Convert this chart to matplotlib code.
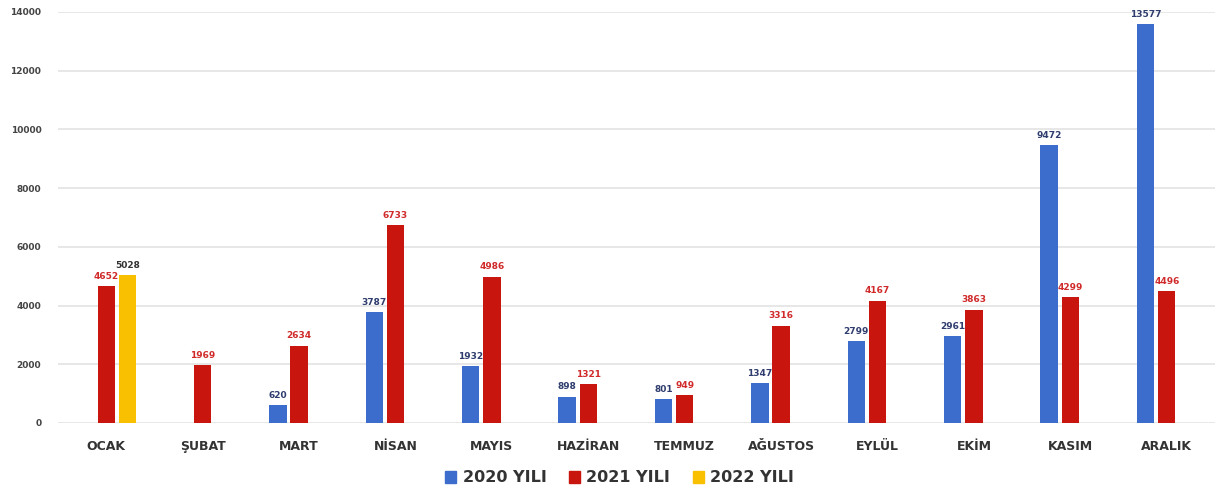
import matplotlib.pyplot as plt
from matplotlib.patches import Patch
import numpy as np

months = ["OCAK", "ŞUBAT", "MART", "NİSAN", "MAYIS", "HAZİRAN",
          "TEMMUZ", "AĞUSTOS", "EYLÜL", "EKİM", "KASIM", "ARALIK"]
y2020 = [None, None, 620, 3787, 1932, 898, 801, 1347, 2799, 2961, 9472, 13577]
y2021 = [4652, 1969, 2634, 6733, 4986, 1321, 949, 3316, 4167, 3863, 4299, 4496]
y2022 = [5028, None, None, None, None, None, None, None, None, None, None, None]
series_names = ["2020 YILI", "2021 YILI", "2022 YILI"]
yticks = [0, 2000, 4000, 6000, 8000, 10000, 12000, 14000]

colors = ["#3c6ccc", "#c8160e", "#f8c000"]
label_colors = ["#2f3d6e", "#d02a2a", "#333333"]

fig = plt.figure(figsize=(12.15, 4.92), dpi=100)
ax = fig.add_axes([58 / 1215, 69 / 492, 1157 / 1215, 411 / 492])

x = np.arange(len(months))
width = 0.18
offsets = [-0.22, 0.0, 0.22]

for vals, off, c, lc in zip([y2020, y2021, y2022], offsets, colors, label_colors):
    for xi, v in zip(x, vals):
        if v is None:
            continue
        ax.bar(xi + off, v, width, color=c, zorder=3)
        ax.text(xi + off, v + 180, str(v), ha="center", va="bottom",
                fontsize=6.5, fontweight="bold", color=lc, zorder=4)

ax.set_xlim(-0.5, len(months) - 0.5)
ax.set_ylim(0, 14000)
ax.set_yticks(yticks)
ax.set_yticklabels([str(t) for t in yticks], fontsize=6.5, fontweight="bold", color="#444444")
ax.set_xticks(x)
ax.set_xticklabels(months, fontsize=9, fontweight="bold", color="#333333")
ax.tick_params(axis="both", length=0)
ax.tick_params(axis="x", pad=12)
ax.tick_params(axis="y", pad=12)
ax.grid(axis="y", color="#e3e3e3", linewidth=1.2, zorder=0)
for s in ax.spines.values():
    s.set_visible(False)

handles = [Patch(color=c) for c in colors]
fig.legend(handles, series_names, loc="center", bbox_to_anchor=(0.51, 478 / 492 * 0 + 14 / 492 + 0.0),
           ncol=3, frameon=False, handlelength=0.7, handleheight=0.7,
           handletextpad=0.4, columnspacing=1.4,
           prop={"size": 11.5, "weight": "bold"}, labelcolor="#333333")

fig.savefig("out.png", dpi=100, facecolor="white")
